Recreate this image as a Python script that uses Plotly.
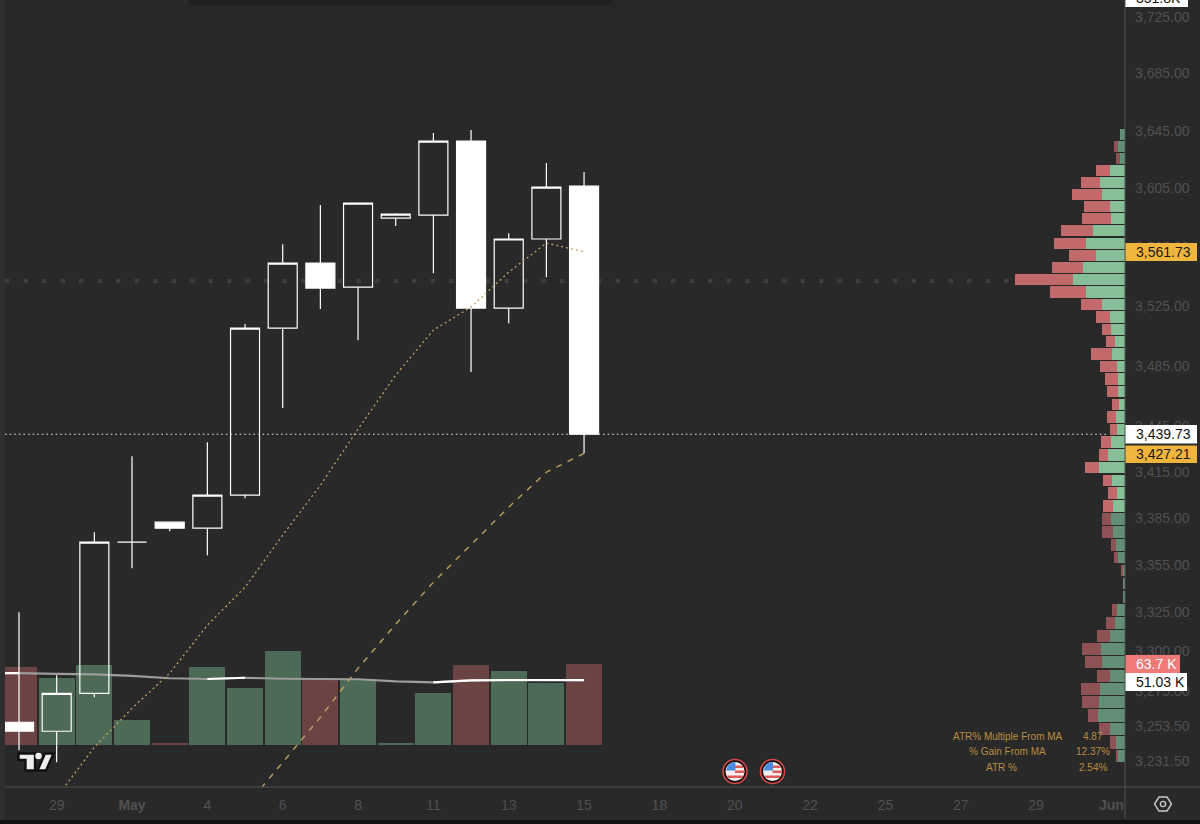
# %%
import math

import plotly.graph_objects as go

# %%
# Daily candles, read off the price scale
bar_index = list(range(16))
open_price = [3255.7, 3250.1, 3273.7, 3369.6, 3382.5, 3378.6, 3400.0, 3510.1,
              3554.0, 3537.8, 3584.7, 3586.7, 3637.8, 3523.6, 3570.4, 3606.7]
high_price = [3324.8, 3285.0, 3376.0, 3425.4, 3382.5, 3434.5, 3512.9, 3566.9,
              3593.6, 3595.0, 3588.0, 3643.4, 3645.5, 3574.4, 3622.5, 3616.3]
low_price = [3238.3, 3230.9, 3271.3, 3352.9, 3376.6, 3361.2, 3398.0, 3457.0,
             3523.0, 3502.1, 3579.2, 3547.2, 3480.8, 3513.5, 3544.5, 3427.21]
close_price = [3250.1, 3273.7, 3369.6, 3369.6, 3378.6, 3400.0, 3510.1, 3554.0,
               3537.1, 3595.0, 3587.4, 3637.8, 3523.6, 3570.4, 3606.0, 3439.73]

# Moving averages on price (the first runs off the bottom of the chart)
fast_ma_index = list(range(1, 16))
fast_ma = [3209.4, 3240.2, 3264.4, 3286.3, 3316.6, 3340.7, 3374.1, 3406.4,
           3443.1, 3478.8, 3508.8, 3524.3, 3547.9, 3567.6, 3561.73]
slow_ma_index = list(range(6, 16))
slow_ma = [3203.2, 3230.9, 3258.8, 3289.4, 3317.2, 3343.9, 3368.3, 3392.2,
           3414.9, 3427.21]

# Volume in thousands, and its average
volume = [61.3, 52.7, 62.9, 19.7, 1.6, 61.3, 44.8, 73.9,
          51.1, 51.1, 1.6, 40.9, 62.9, 58.2, 48.8, 63.7]
volume_down = [True, False, False, False, True, False, False, False,
               True, False, False, False, True, False, False, True]
volume_ma_index = list(range(-1, 16))
volume_ma = [56.6, 56.6, 56.0, 55.6, 54.3, 52.5, 51.9, 52.9, 52.1,
             51.7, 51.7, 50.1, 49.3, 50.9, 51.1, 51.1, 51.03]
volume_ma_bright = [True, True, False, False, False, False, True, True, False,
                    False, False, False, True, True, True, True, True]

# Volume profile rows on the right
profile_price = [3642.5, 3634.2, 3625.9, 3617.5, 3609.2, 3600.9, 3592.6, 3584.3, 3576.0, 3567.6,
                 3559.3, 3551.0, 3542.7, 3534.4, 3526.0, 3517.7, 3509.4, 3501.1, 3492.8, 3484.5,
                 3476.1, 3467.8, 3459.5, 3451.2, 3442.9, 3434.5, 3426.2, 3417.9, 3409.6, 3401.3,
                 3393.0, 3384.6, 3376.3, 3368.0, 3359.7, 3351.4, 3343.1, 3334.7, 3326.4, 3318.1,
                 3309.8, 3301.5, 3293.1, 3284.8, 3276.5, 3268.2, 3259.9, 3251.6, 3243.2, 3234.9]
profile_up = [5.3, 6.7, 5.3, 15.3, 25.3, 23.0, 15.3, 14.3, 31.7, 38.7,
              29.3, 41.7, 52.3, 38.7, 23.0, 14.7, 14.3, 10.0, 13.3, 8.0,
              7.3, 7.0, 5.7, 9.0, 8.0, 13.7, 16.7, 26.3, 13.0, 8.0,
              12.3, 14.3, 11.7, 9.0, 7.3, 2.0, 1.3, 2.0, 7.7, 9.7,
              14.7, 24.0, 22.7, 15.3, 25.0, 26.3, 27.3, 15.3, 9.0, 6.7]
profile_down = [0.0, 4.7, 4.0, 13.3, 19.0, 29.7, 25.7, 28.3, 32.7, 32.3,
                26.3, 31.3, 57.7, 36.3, 21.3, 14.0, 9.0, 9.0, 20.7, 17.0,
                13.0, 10.7, 7.3, 9.3, 7.3, 10.0, 9.7, 14.0, 9.3, 8.7,
                9.3, 8.7, 11.7, 5.0, 3.3, 1.7, 0.0, 0.0, 5.3, 9.3,
                13.7, 19.3, 17.7, 13.0, 19.0, 16.3, 10.0, 10.3, 6.0, 2.7]

# Axis ticks
x_tick_index = [1, 3, 5, 7, 9, 11, 13, 15, 17, 19, 21, 23, 25, 27, 29]
x_tick_labels = ["29", "<b>May</b>", "4", "6", "8", "11", "13", "15",
                 "18", "20", "22", "25", "27", "29", "<b>Jun</b>"]
y_tick_values = [3725, 3685, 3645, 3605, 3565, 3525, 3485, 3445, 3415,
                 3385, 3355, 3325, 3300, 3275, 3253.5, 3231.5]
y_tick_labels = ["3,725.00", "3,685.00", "3,645.00", "3,605.00", "3,565.00", "3,525.00",
                 "3,485.00", "3,445.00", "3,415.00", "3,385.00", "3,355.00", "3,325.00",
                 "3,300.00", "3,275.00", "3,253.50", "3,231.50"]

last_price = 3439.73
poc_price = 3541.8

BACKGROUND = "#292929"
FONT = "Liberation Sans"
PLOT_LEFT, PLOT_RIGHT, PLOT_BOTTOM = 5, 1125, 787


# %%
# Page pixels to paper coordinates, for the furniture around the chart
def px(x):
    return (x - PLOT_LEFT) / (PLOT_RIGHT - PLOT_LEFT)


def py(y):
    return 1 - y / PLOT_BOTTOM


def rect(x0, y0, x1, y1, fill, line=None, width=0):
    return dict(type="rect", xref="paper", yref="paper", x0=px(x0), x1=px(x1), y0=py(y0), y1=py(y1),
                fillcolor=fill, line=dict(color=line, width=width), layer="above")


def circle(cx, cy, r, fill, line=None, width=0):
    return dict(type="circle", xref="paper", yref="paper", x0=px(cx - r), x1=px(cx + r), y0=py(cy - r), y1=py(cy + r),
                fillcolor=fill, line=dict(color=line, width=width), layer="above")


def polygon(points, fill=None, line=None, width=0):
    path = "M " + " L ".join(f"{px(x):.5f},{py(y):.5f}" for x, y in points) + " Z"
    return dict(type="path", xref="paper", yref="paper", path=path, fillcolor=fill,
                line=dict(color=line, width=width), layer="above")


def flag(cx, cy):
    return [
        circle(cx, cy, 12, "#111111", "#d9484a", 1.6),
        circle(cx, cy, 9.5, "#f4f0f0"),
        rect(cx, cy - 6, cx + 8, cy - 3.5, "#e05a5a"),
        rect(cx, cy - 1, cx + 9.4, cy + 1.5, "#e05a5a"),
        rect(cx - 7.5, cy + 4, cx + 7.5, cy + 6.5, "#e05a5a"),
        polygon([(cx - 9, cy - 1), (cx - 7, cy - 6), (cx - 3, cy - 9), (cx + 0.5, cy - 9.4), (cx + 0.5, cy - 1)], "#4a8be0"),
    ]


# %%
fig = go.Figure()

fig.add_trace(
    go.Bar(
        x=bar_index,
        y=volume,
        width=0.96,
        marker=dict(color=["#6b4343" if down else "#4d6a57" for down in volume_down], line_width=0),
        xaxis="x",
        yaxis="y",
    )
)
fig.add_trace(
    go.Scatter(
        x=volume_ma_index,
        y=volume_ma,
        mode="lines",
        line=dict(color="#9c9c9c", width=2.2),
        xaxis="x",
        yaxis="y",
    )
)
fig.add_trace(
    go.Scatter(
        x=volume_ma_index,
        y=[value if bright else None for value, bright in zip(volume_ma, volume_ma_bright)],
        mode="lines",
        line=dict(color="#ffffff", width=2.2),
        xaxis="x",
        yaxis="y",
    )
)
fig.add_trace(
    go.Scatter(
        x=fast_ma_index,
        y=fast_ma,
        mode="lines",
        line=dict(color="#c2a262", width=1.3, dash="2px,3px"),
        xaxis="x",
        yaxis="y2",
    )
)
fig.add_trace(
    go.Scatter(
        x=slow_ma_index,
        y=slow_ma,
        mode="lines",
        line=dict(color="#bfa05e", width=1.4, dash="6px,6.5px"),
        xaxis="x",
        yaxis="y2",
    )
)
fig.add_trace(
    go.Candlestick(
        x=bar_index,
        open=open_price,
        high=high_price,
        low=low_price,
        close=close_price,
        increasing=dict(line=dict(color="#ffffff", width=1.2), fillcolor="rgba(0,0,0,0)"),
        decreasing=dict(line=dict(color="#ffffff", width=1.2), fillcolor="#ffffff"),
        xaxis="x",
        yaxis="y2",
    )
)

# Profile rows are dimmer outside the value area
profile_bright = [3390 < price < 3620 for price in profile_price]
fig.add_trace(
    go.Bar(
        y=profile_price,
        x=profile_up,
        orientation="h",
        width=7.6,
        marker=dict(color=["#86be97" if bright else "#628f75" for bright in profile_bright], line_width=0),
        xaxis="x2",
        yaxis="y2",
    )
)
fig.add_trace(
    go.Bar(
        y=profile_price,
        x=profile_down,
        orientation="h",
        width=7.6,
        marker=dict(color=["#c26a6b" if bright else "#8e5254" for bright in profile_bright], line_width=0),
        xaxis="x2",
        yaxis="y2",
    )
)

# %%
shapes = [
    # lighter strip on the far left, toolbar peeking in at the top, bottom edge
    rect(0, 0, PLOT_LEFT, 824, "#2f2f2f"),
    rect(186, 0, 616, 8, "#252525"),
    rect(190, 0, 612, 5, "#1f1f1f"),
    rect(0, 820, 1200, 824, "#121212"),
    # price lines
    dict(type="line", xref="paper", yref="y2", x0=px(5), x1=px(1014), y0=poc_price, y1=poc_price,
         line=dict(color="#3d3d3d", width=4.5, dash="4.5px,14px"), layer="below"),
    dict(type="line", xref="paper", yref="y2", x0=px(5), x1=px(1108), y0=last_price, y1=last_price,
         line=dict(color="#e6e6e6", width=1.2, dash="1.6px,3px"), layer="below"),
    # axis lines
    rect(PLOT_LEFT, 786.5, 1200, 787.5, "#555555"),
    rect(1124.5, 0, 1125.5, 818, "#555555"),
    # settings icon
    polygon([(1154.5, 804), (1159, 797), (1167, 797), (1171.5, 804), (1167, 811), (1159, 811)], None, "#c8c8c8", 1.4),
    circle(1163, 804, 2.6, "rgba(0,0,0,0)", "#c8c8c8", 1.4),
    # logo
    polygon([(18.5, 753.5), (35, 753.5), (35, 770.5), (25.5, 770.5), (25.5, 760), (18.5, 760)], "#eeeeee", "#111111", 2.4),
    polygon([(45, 753.5), (53.5, 753.5), (46, 770.5), (37.5, 770.5)], "#eeeeee", "#111111", 2.4),
    circle(38.5, 756, 3.2, "#eeeeee"),
]
shapes += flag(735, 771.5) + flag(772.5, 771.5)

# Value tags on the right axis
tags = [
    (1188, -12, 7, "#ffffff", "#111111", "351.8K"),
    (1197, 243, 261, "#f0b53d", "#1a1a1a", "3,561.73"),
    (1197, 425, 443.5, "#ffffff", "#111111", "3,439.73"),
    (1197, 445.5, 463, "#f0b53d", "#1a1a1a", "3,427.21"),
    (1180, 655, 673, "#ef7a78", "#ffffff", "63.7 K"),
    (1187, 673, 691, "#ffffff", "#111111", "51.03 K"),
]
annotations = []
for right, top, bottom, fill, text_color, text in tags:
    shapes.append(rect(1125.5, top, right, bottom, fill))
    annotations.append(
        dict(xref="paper", yref="paper", x=px(1133.5), y=py((top + bottom) / 2), text=text, showarrow=False,
             xanchor="left", yanchor="middle", font=dict(family=FONT, size=14, color=text_color))
    )

# Small stats table at the bottom right
stats = [
    ("ATR% Multiple From MA", "4.87", 1008, 736),
    ("% Gain From MA", "12.37%", 1007, 751.5),
    ("ATR %", "2.54%", 1002, 767),
]
for name, value, name_x, row_y in stats:
    for text, text_x in ((name, name_x), (value, 1093)):
        annotations.append(
            dict(xref="paper", yref="paper", x=px(text_x), y=py(row_y), text=text, showarrow=False,
                 xanchor="center", yanchor="middle", font=dict(family=FONT, size=10, color="#b98c42"))
        )

fig.update_layout(
    width=1200,
    height=824,
    margin=dict(l=PLOT_LEFT, r=1200 - PLOT_RIGHT, t=0, b=824 - PLOT_BOTTOM),
    paper_bgcolor=BACKGROUND,
    plot_bgcolor=BACKGROUND,
    showlegend=False,
    barmode="stack",
    boxgap=0.23,
    boxgroupgap=0,
    bargap=0,
    hovermode=False,
    shapes=shapes,
    annotations=annotations,
    xaxis=dict(
        range=[-0.372, 29.36],
        tickmode="array",
        tickvals=x_tick_index,
        ticktext=x_tick_labels,
        tickfont=dict(family=FONT, size=14, color="#505050"),
        ticklabelstandoff=8,
        showgrid=False,
        zeroline=False,
        rangeslider=dict(visible=False),
    ),
    # Volume sits underneath, price overlays it
    yaxis=dict(range=[-33.03, 585.9], visible=False, showgrid=False, zeroline=False),
    yaxis2=dict(
        type="log",
        overlaying="y",
        side="right",
        anchor="x",
        range=[math.log10(3215.7), math.log10(3737.1)],
        tickmode="array",
        tickvals=y_tick_values,
        ticktext=y_tick_labels,
        tickfont=dict(family=FONT, size=14, color="#505050"),
        ticklabelstandoff=9,
        showgrid=False,
        zeroline=False,
    ),
    xaxis2=dict(overlaying="x", anchor="y2", range=[1120, 0], visible=False, showgrid=False, zeroline=False),
)

fig.write_html("out.html", config={"displayModeBar": False},
               post_script="document.body.style.margin='0';document.body.style.overflow='hidden';")
